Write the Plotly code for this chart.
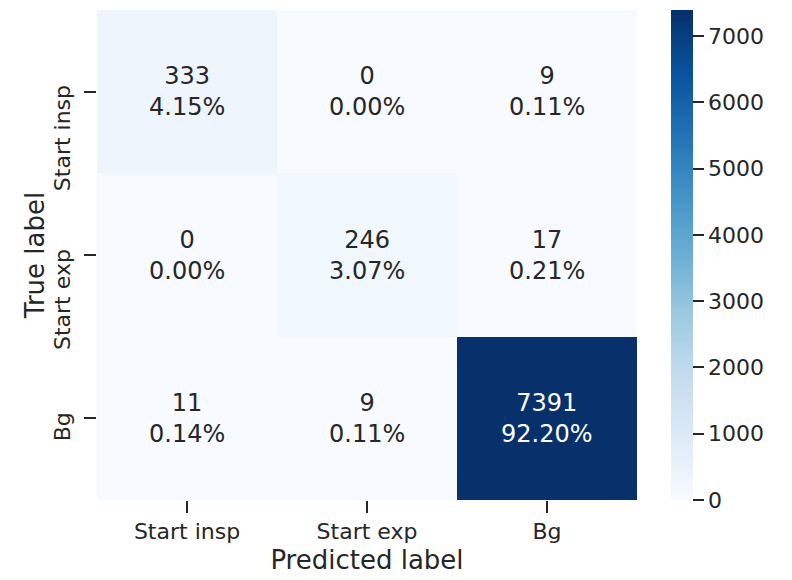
import numpy as np
import plotly.graph_objects as go

# Confusion matrix: rows = true label, columns = predicted label
labels = ["Start insp", "Start exp", "Bg"]
counts = [
    [333, 0, 9],
    [0, 246, 17],
    [11, 9, 7391],
]
cbar_ticks = [0, 1000, 2000, 3000, 4000, 5000, 6000, 7000]

# matplotlib "Blues" colormap
blues = [
    [0.000, "#f7fbff"],
    [0.125, "#deebf7"],
    [0.250, "#c6dbef"],
    [0.375, "#9ecae1"],
    [0.500, "#6baed6"],
    [0.625, "#4292c6"],
    [0.750, "#2171b5"],
    [0.875, "#08519c"],
    [1.000, "#08306b"],
]

z = np.array(counts, dtype=float)
total = z.sum()
zmin, zmax = z.min(), z.max()
n = len(labels)

FONT = "DejaVu Sans"
TXT = "#262626"

fig = go.Figure(
    go.Heatmap(
        z=z,
        x=labels,
        y=labels,
        zmin=zmin,
        zmax=zmax,
        colorscale=blues,
        hoverongaps=False,
        colorbar=dict(
            x=1.063,
            xanchor="left",
            xpad=0,
            y=0.5,
            yanchor="middle",
            ypad=0,
            len=1.0,
            lenmode="fraction",
            thickness=22,
            outlinewidth=0,
            tickvals=cbar_ticks,
            ticks="outside",
            ticklen=11,
            tickwidth=2,
            tickcolor=TXT,
            tickfont=dict(family=FONT, size=22, color=TXT),
        ),
    )
)

# Count and share of total in every cell
for i, row in enumerate(counts):
    for j, v in enumerate(row):
        frac = (v - zmin) / (zmax - zmin)
        fig.add_annotation(
            x=labels[j],
            y=labels[i],
            text=f"{v}<br>{v / total * 100:.2f}%",
            showarrow=False,
            font=dict(family=FONT, size=24, color="white" if frac > 0.5 else TXT),
        )

# Vertical row labels, end-aligned just above each tick
for lab in labels:
    fig.add_annotation(
        x=0,
        xref="paper",
        y=lab,
        yref="y",
        text=lab,
        textangle=-90,
        showarrow=False,
        xanchor="right",
        yanchor="top",
        xshift=-20,
        yshift=8,
        font=dict(family=FONT, size=22, color=TXT),
    )

fig.update_xaxes(
    title=dict(text="Predicted label", font=dict(family=FONT, size=26, color=TXT), standoff=7),
    range=[-0.5, n - 0.5],
    ticks="outside",
    ticklen=12,
    tickwidth=2,
    tickcolor=TXT,
    tickfont=dict(family=FONT, size=22, color=TXT),
    showgrid=False,
    zeroline=False,
    showline=False,
)
fig.update_yaxes(
    title=dict(text="True label", font=dict(family=FONT, size=26, color=TXT), standoff=31),
    range=[n - 0.5, -0.5],
    ticks="outside",
    ticklen=12,
    tickwidth=2,
    tickcolor=TXT,
    showticklabels=False,
    showgrid=False,
    zeroline=False,
    showline=False,
)

fig.update_layout(
    width=792,
    height=580,
    margin=dict(l=97, r=155, t=10, b=80, autoexpand=False),
    paper_bgcolor="white",
    plot_bgcolor="white",
    font=dict(family=FONT, color=TXT),
)

fig.write_html("out.html")
